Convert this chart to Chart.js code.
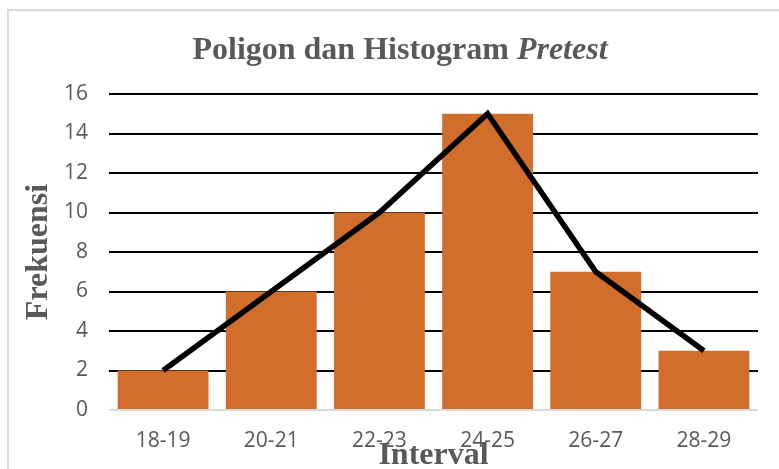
<!DOCTYPE html>
<html>
<head>
<meta charset="utf-8">
<script src="https://cdn.jsdelivr.net/npm/chart.js@4.4.0/dist/chart.umd.min.js"></script>
<style>
  html, body { margin: 0; padding: 0; background: #fff; }
  #wrap { position: relative; width: 779px; height: 469px; overflow: hidden; }
  #frame { position: absolute; left: 7px; top: 9px; width: 820px; height: 520px;
           border-left: 2px solid #d9d9d9; border-top: 2px solid #d9d9d9; }
  canvas { position: absolute; left: 0; top: 0; }
</style>
</head>
<body>
<div id="wrap">
  <div id="frame"></div>
  <canvas id="myChart" width="779" height="469"></canvas>
</div>
<script>
const labels = ['18-19', '20-21', '22-23', '24-25', '26-27', '28-29'];
const frekuensi = [2, 6, 10, 15, 7, 3];
const yTicks = [0, 2, 4, 6, 8, 10, 12, 14, 16];

const barColor = '#d26e2b';
const textColor = '#595959';

// title with italic last word, drawn by hand
const titlePlugin = {
    id: 'mixedTitle',
    afterDraw(chart) {
        const ctx = chart.ctx;
        const part1 = 'Poligon dan Histogram ';
        const part2 = 'Pretest';
        ctx.save();
        ctx.fillStyle = textColor;
        ctx.textBaseline = 'middle';
        ctx.font = 'bold 32px "Liberation Serif", "Times New Roman", serif';
        const w1 = ctx.measureText(part1).width;
        ctx.font = 'italic bold 32px "Liberation Serif", "Times New Roman", serif';
        const w2 = ctx.measureText(part2).width;
        const x0 = 400 - (w1 + w2) / 2;
        ctx.font = 'bold 32px "Liberation Serif", "Times New Roman", serif';
        ctx.textAlign = 'left';
        ctx.fillText(part1, x0, 51);
        ctx.font = 'italic bold 32px "Liberation Serif", "Times New Roman", serif';
        ctx.fillText(part2, x0 + w1, 51);
        ctx.restore();
    }
};

const data = {
    labels: labels,
    datasets: [{
        type: 'line',
        label: 'Poligon',
        data: frekuensi,
        borderColor: '#000000',
        borderWidth: 5.5,
        pointRadius: 0,
        tension: 0,
        order: 0
    }, {
        type: 'bar',
        label: 'Histogram',
        data: frekuensi,
        backgroundColor: barColor,
        borderWidth: 0,
        categoryPercentage: 1.0,
        barPercentage: 0.84,
        order: 1
    }]
};

const config = {
    data: data,
    options: {
        responsive: false,
        animation: false,
        layout: {
            padding: { top: 94, right: 21, left: 0, bottom: 0 }
        },
        plugins: {
            legend: { display: false },
            tooltip: { enabled: false }
        },
        scales: {
            x: {
                grid: { display: false },
                border: { display: false },
                ticks: {
                    color: textColor,
                    font: { family: '"Open Sans"', size: 21 },
                    padding: 10,
                    maxRotation: 0
                },
                title: {
                    display: true,
                    text: 'Interval',
                    color: textColor,
                    font: { family: '"Liberation Serif", serif', size: 32, weight: 'bold', lineHeight: 0.8 },
                    padding: 0
                },
                afterFit: s => { s.height = 59; }
            },
            y: {
                min: 0,
                max: 16,
                afterBuildTicks: s => { s.ticks = yTicks.map(v => ({ value: v })); },
                grid: {
                    color: c => c.tick && c.tick.value === 0 ? '#d9d9d9' : '#000000',
                    lineWidth: 2,
                    drawTicks: false
                },
                border: { display: false },
                ticks: {
                    color: textColor,
                    font: { family: '"Open Sans"', size: 21 },
                    padding: 21
                },
                title: {
                    display: true,
                    text: 'Frekuensi',
                    color: textColor,
                    font: { family: '"Liberation Serif", serif', size: 32, weight: 'bold' },
                    padding: { top: 20, bottom: 0 }
                },
                afterFit: s => { s.width = 109; }
            }
        }
    },
    plugins: [titlePlugin]
};

const myChart = new Chart(document.getElementById('myChart'), config);
</script>
</body>
</html>
